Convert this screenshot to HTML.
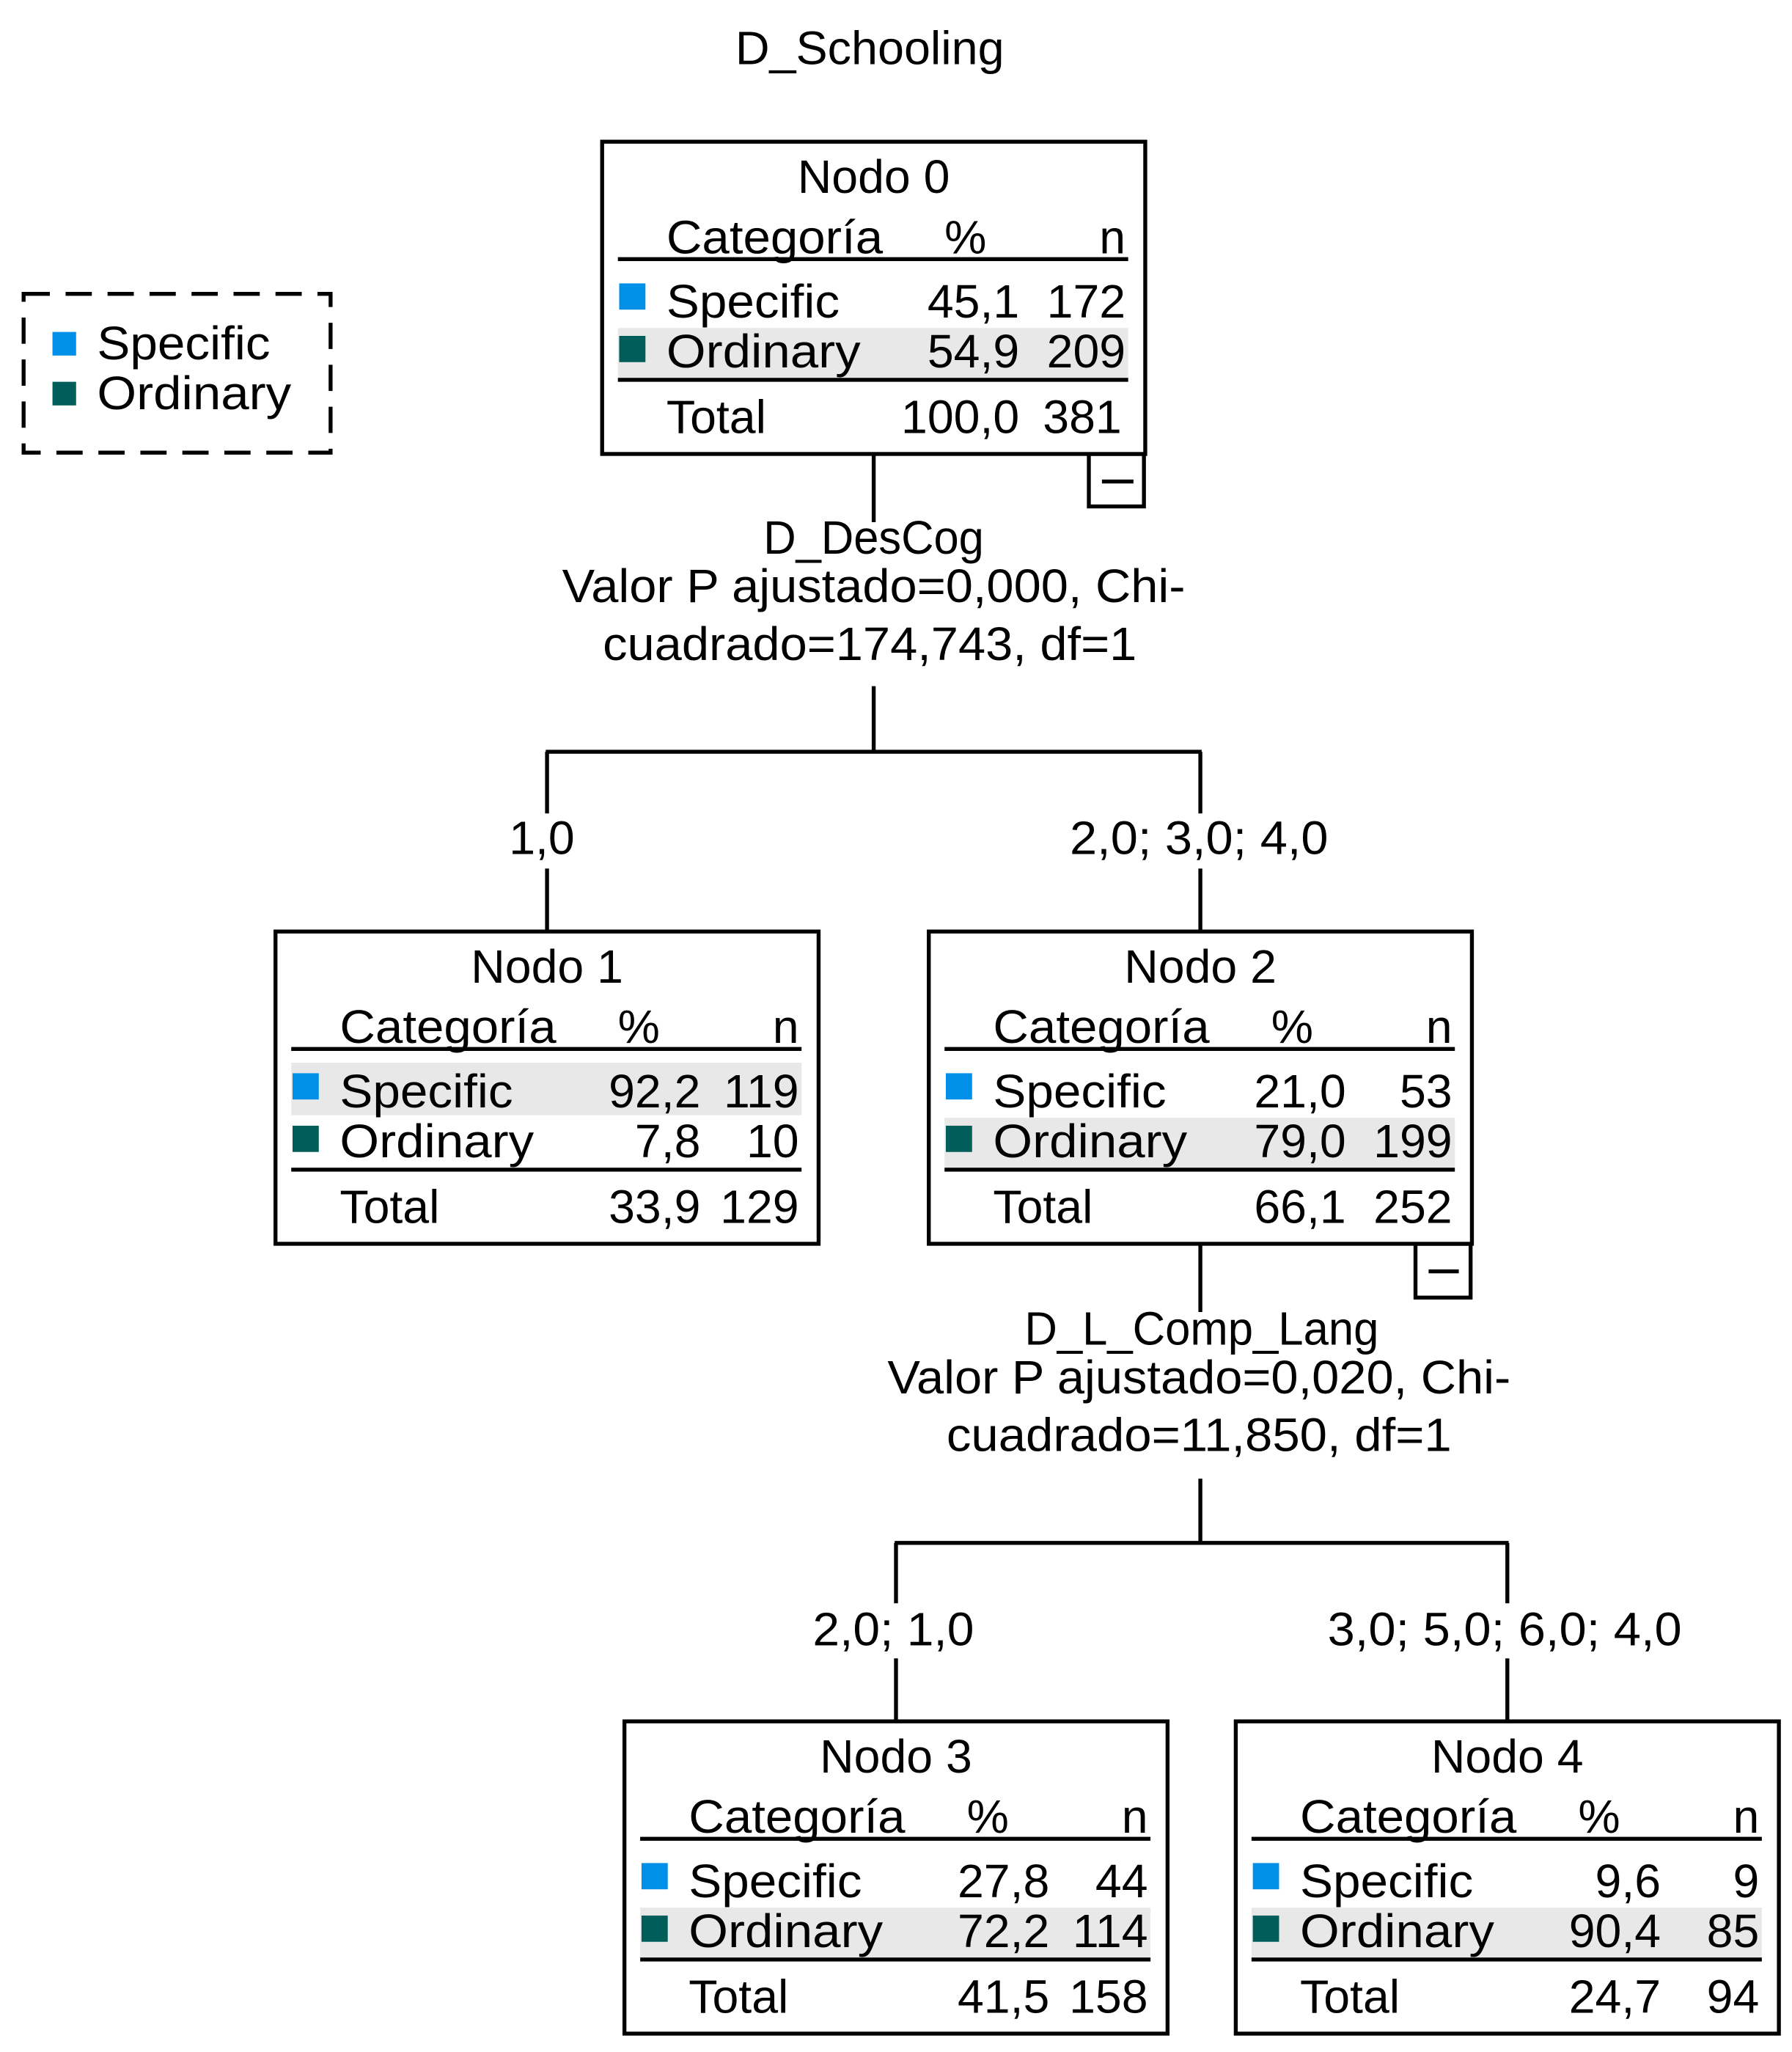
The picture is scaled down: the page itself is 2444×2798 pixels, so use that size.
<!DOCTYPE html>
<html><head><meta charset="utf-8"><style>
html,body{margin:0;padding:0;background:#fff;}
svg{display:block;}
text{font-family:"Liberation Sans",sans-serif;font-size:36px;fill:#000;}
</style></head><body>
<svg width="2444" height="2798" viewBox="0 0 1366 1564" preserveAspectRatio="none" xmlns="http://www.w3.org/2000/svg">
<defs>
<g id="frame">
<rect x="0" y="0" width="414" height="238" fill="#fff" stroke="#000" stroke-width="3"/>
</g>
</defs>
<text x="663" y="49" text-anchor="middle" textLength="205" lengthAdjust="spacingAndGlyphs">D_Schooling</text>

<!-- legend -->
<rect x="18" y="224" width="234" height="121" fill="none" stroke="#000" stroke-width="3" stroke-dasharray="20 12"/>
<rect x="40" y="253" width="18" height="18" fill="#0090e8"/>
<rect x="40" y="291" width="18" height="18" fill="#005e5a"/>
<text x="74" y="274" textLength="132" lengthAdjust="spacingAndGlyphs">Specific</text>
<text x="74" y="312" textLength="148" lengthAdjust="spacingAndGlyphs">Ordinary</text>

<!-- connectors -->
<g stroke="#000" stroke-width="3" fill="none">
<line x1="666" y1="346" x2="666" y2="398"/>
<line x1="666" y1="523" x2="666" y2="573"/>
<line x1="416" y1="573" x2="916" y2="573"/>
<line x1="417" y1="573" x2="417" y2="710"/>
<line x1="915" y1="573" x2="915" y2="710"/>
<line x1="915" y1="948" x2="915" y2="1000"/>
<line x1="915" y1="1127" x2="915" y2="1176"/>
<line x1="682" y1="1176" x2="1150" y2="1176"/>
<line x1="683" y1="1176" x2="683" y2="1312"/>
<line x1="1149" y1="1176" x2="1149" y2="1312"/>
</g>
<g fill="#fff">
<rect x="386" y="620" width="54" height="42"/>
<rect x="814" y="620" width="201" height="42"/>
<rect x="618" y="1222" width="127" height="42"/>
<rect x="1010" y="1222" width="274" height="42"/>
</g>
<text x="666" y="422" text-anchor="middle" textLength="168" lengthAdjust="spacingAndGlyphs">D_DesCog</text>
<text x="666" y="459" text-anchor="middle" textLength="475" lengthAdjust="spacingAndGlyphs">Valor P ajustado=0,000, Chi-</text>
<text x="663" y="503" text-anchor="middle" textLength="407" lengthAdjust="spacingAndGlyphs">cuadrado=174,743, df=1</text>
<text x="413" y="651" text-anchor="middle" textLength="50" lengthAdjust="spacingAndGlyphs">1,0</text>
<text x="914" y="651" text-anchor="middle" textLength="197" lengthAdjust="spacingAndGlyphs">2,0; 3,0; 4,0</text>
<text x="916" y="1025" text-anchor="middle" textLength="270" lengthAdjust="spacingAndGlyphs">D_L_Comp_Lang</text>
<text x="914" y="1062" text-anchor="middle" textLength="475" lengthAdjust="spacingAndGlyphs">Valor P ajustado=0,020, Chi-</text>
<text x="914" y="1106" text-anchor="middle" textLength="385" lengthAdjust="spacingAndGlyphs">cuadrado=11,850, df=1</text>
<text x="681" y="1254" text-anchor="middle" textLength="123" lengthAdjust="spacingAndGlyphs">2,0; 1,0</text>
<text x="1147" y="1254" text-anchor="middle" textLength="270" lengthAdjust="spacingAndGlyphs">3,0; 5,0; 6,0; 4,0</text>

<!-- collapse boxes -->
<g stroke="#000" stroke-width="3" fill="#fff">
<rect x="830" y="346" width="42" height="40"/>
<rect x="1079" y="948" width="42" height="41"/>
</g>
<g stroke="#000" stroke-width="3">
<line x1="840" y1="367" x2="864" y2="367"/>
<line x1="1089" y1="969" x2="1112" y2="969"/>
</g>

<!-- Node 0 -->
<g transform="translate(459,108)">
<use href="#frame"/>
<rect x="12" y="142" width="389" height="38" fill="#e8e8e8"/>
<text x="207" y="39" text-anchor="middle">Nodo 0</text>
<text x="49" y="85" textLength="165" lengthAdjust="spacingAndGlyphs">Categoría</text>
<text x="277" y="85" text-anchor="middle">%</text>
<text x="399" y="85" text-anchor="end">n</text>
<rect x="12" y="88" width="389" height="3"/>
<rect x="13" y="108" width="20" height="20" fill="#0090e8"/>
<text x="49" y="134" textLength="132" lengthAdjust="spacingAndGlyphs">Specific</text>
<text x="318" y="134" text-anchor="end">45,1</text><text x="399" y="134" text-anchor="end">172</text>
<rect x="13" y="148" width="20" height="20" fill="#005e5a"/>
<text x="49" y="172" textLength="148" lengthAdjust="spacingAndGlyphs">Ordinary</text>
<text x="318" y="172" text-anchor="end">54,9</text><text x="399" y="172" text-anchor="end">209</text>
<rect x="12" y="180" width="389" height="3"/>
<text x="49" y="222">Total</text>
<text x="318" y="222" text-anchor="end">100,0</text><text x="396" y="222" text-anchor="end">381</text>
</g>

<!-- Node 1 -->
<g transform="translate(210,710)">
<use href="#frame"/>
<rect x="12" y="100" width="389" height="40" fill="#e8e8e8"/>
<text x="207" y="39" text-anchor="middle">Nodo 1</text>
<text x="49" y="85" textLength="165" lengthAdjust="spacingAndGlyphs">Categoría</text>
<text x="277" y="85" text-anchor="middle">%</text>
<text x="399" y="85" text-anchor="end">n</text>
<rect x="12" y="88" width="389" height="3"/>
<rect x="13" y="108" width="20" height="20" fill="#0090e8"/>
<text x="49" y="134" textLength="132" lengthAdjust="spacingAndGlyphs">Specific</text>
<text x="324" y="134" text-anchor="end">92,2</text><text x="399" y="134" text-anchor="end">119</text>
<rect x="13" y="148" width="20" height="20" fill="#005e5a"/>
<text x="49" y="172" textLength="148" lengthAdjust="spacingAndGlyphs">Ordinary</text>
<text x="324" y="172" text-anchor="end">7,8</text><text x="399" y="172" text-anchor="end">10</text>
<rect x="12" y="180" width="389" height="3"/>
<text x="49" y="222">Total</text>
<text x="324" y="222" text-anchor="end">33,9</text><text x="399" y="222" text-anchor="end">129</text>
</g>

<!-- Node 2 -->
<g transform="translate(708,710)">
<use href="#frame"/>
<rect x="12" y="142" width="389" height="38" fill="#e8e8e8"/>
<text x="207" y="39" text-anchor="middle">Nodo 2</text>
<text x="49" y="85" textLength="165" lengthAdjust="spacingAndGlyphs">Categoría</text>
<text x="277" y="85" text-anchor="middle">%</text>
<text x="399" y="85" text-anchor="end">n</text>
<rect x="12" y="88" width="389" height="3"/>
<rect x="13" y="108" width="20" height="20" fill="#0090e8"/>
<text x="49" y="134" textLength="132" lengthAdjust="spacingAndGlyphs">Specific</text>
<text x="318" y="134" text-anchor="end">21,0</text><text x="399" y="134" text-anchor="end">53</text>
<rect x="13" y="148" width="20" height="20" fill="#005e5a"/>
<text x="49" y="172" textLength="148" lengthAdjust="spacingAndGlyphs">Ordinary</text>
<text x="318" y="172" text-anchor="end">79,0</text><text x="399" y="172" text-anchor="end">199</text>
<rect x="12" y="180" width="389" height="3"/>
<text x="49" y="222">Total</text>
<text x="318" y="222" text-anchor="end">66,1</text><text x="399" y="222" text-anchor="end">252</text>
</g>

<!-- Node 3 -->
<g transform="translate(476,1312)">
<use href="#frame"/>
<rect x="12" y="142" width="389" height="38" fill="#e8e8e8"/>
<text x="207" y="39" text-anchor="middle">Nodo 3</text>
<text x="49" y="85" textLength="165" lengthAdjust="spacingAndGlyphs">Categoría</text>
<text x="277" y="85" text-anchor="middle">%</text>
<text x="399" y="85" text-anchor="end">n</text>
<rect x="12" y="88" width="389" height="3"/>
<rect x="13" y="108" width="20" height="20" fill="#0090e8"/>
<text x="49" y="134" textLength="132" lengthAdjust="spacingAndGlyphs">Specific</text>
<text x="324" y="134" text-anchor="end">27,8</text><text x="399" y="134" text-anchor="end">44</text>
<rect x="13" y="148" width="20" height="20" fill="#005e5a"/>
<text x="49" y="172" textLength="148" lengthAdjust="spacingAndGlyphs">Ordinary</text>
<text x="324" y="172" text-anchor="end">72,2</text><text x="399" y="172" text-anchor="end">114</text>
<rect x="12" y="180" width="389" height="3"/>
<text x="49" y="222">Total</text>
<text x="324" y="222" text-anchor="end">41,5</text><text x="399" y="222" text-anchor="end">158</text>
</g>

<!-- Node 4 -->
<g transform="translate(942,1312)">
<use href="#frame"/>
<rect x="12" y="142" width="389" height="38" fill="#e8e8e8"/>
<text x="207" y="39" text-anchor="middle">Nodo 4</text>
<text x="49" y="85" textLength="165" lengthAdjust="spacingAndGlyphs">Categoría</text>
<text x="277" y="85" text-anchor="middle">%</text>
<text x="399" y="85" text-anchor="end">n</text>
<rect x="12" y="88" width="389" height="3"/>
<rect x="13" y="108" width="20" height="20" fill="#0090e8"/>
<text x="49" y="134" textLength="132" lengthAdjust="spacingAndGlyphs">Specific</text>
<text x="324" y="134" text-anchor="end">9,6</text><text x="399" y="134" text-anchor="end">9</text>
<rect x="13" y="148" width="20" height="20" fill="#005e5a"/>
<text x="49" y="172" textLength="148" lengthAdjust="spacingAndGlyphs">Ordinary</text>
<text x="324" y="172" text-anchor="end">90,4</text><text x="399" y="172" text-anchor="end">85</text>
<rect x="12" y="180" width="389" height="3"/>
<text x="49" y="222">Total</text>
<text x="324" y="222" text-anchor="end">24,7</text><text x="399" y="222" text-anchor="end">94</text>
</g>
</svg>
</body></html>
